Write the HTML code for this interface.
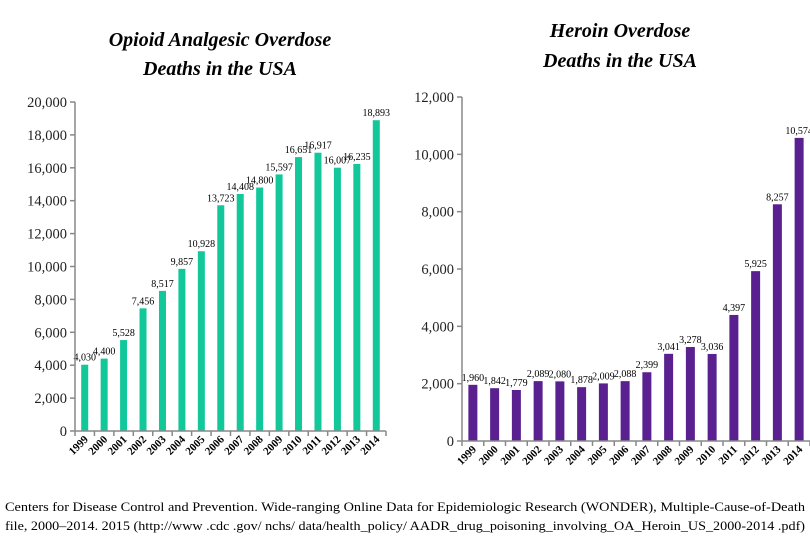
<!DOCTYPE html>
<html><head><meta charset="utf-8"><style>
html,body{margin:0;padding:0;background:#fff;}
svg{display:block;font-family:"Liberation Serif",serif;}
</style></head><body>
<svg id="c" width="810" height="540" viewBox="0 0 810 540">
<text x="220" y="46" text-anchor="middle" font-size="20" font-style="italic" font-weight="bold">Opioid Analgesic Overdose</text>
<text x="220" y="75" text-anchor="middle" font-size="20" font-style="italic" font-weight="bold">Deaths in the USA</text>
<text x="620" y="37" text-anchor="middle" font-size="20" font-style="italic" font-weight="bold">Heroin Overdose</text>
<text x="620" y="67" text-anchor="middle" font-size="20" font-style="italic" font-weight="bold">Deaths in the USA</text>
<g id="left"></g>
<g id="right"></g>
<text x="5" y="511" font-size="13" textLength="800" lengthAdjust="spacingAndGlyphs">Centers for Disease Control and Prevention.  Wide-ranging Online Data for Epidemiologic Research (WONDER),  Multiple-Cause-of-Death</text>
<text x="5" y="530" font-size="13" textLength="800" lengthAdjust="spacingAndGlyphs">file, 2000–2014. 2015 (http://www .cdc .gov/ nchs/ data/health_policy/ AADR_drug_poisoning_involving_OA_Heroin_US_2000-2014 .pdf)</text>
</svg>
<script>
const years = ["1999","2000","2001","2002","2003","2004","2005","2006","2007","2008","2009","2010","2011","2012","2013","2014"];
const opioidValues = [4030,4400,5528,7456,8517,9857,10928,13723,14408,14800,15597,16651,16917,16007,16235,18893];
const heroinValues = [1960,1842,1779,2089,2080,1878,2009,2088,2399,3041,3278,3036,4397,5925,8257,10574];
const opioidTicks = [0,2000,4000,6000,8000,10000,12000,14000,16000,18000,20000];
const heroinTicks = [0,2000,4000,6000,8000,10000,12000];
const NS="http://www.w3.org/2000/svg";
function mk(parent,tag,attrs,text){const e=document.createElementNS(NS,tag);for(const k in attrs)e.setAttribute(k,attrs[k]);if(text!==undefined)e.textContent=text;parent.appendChild(e);return e;}
function fmt(v){return v.toLocaleString("en-US");}
function draw(g,cfg){
  const y=v=>cfg.y0-(v/cfg.max)*(cfg.y0-cfg.yTop);
  const step=(cfg.x1-cfg.x0)/years.length;
  const x=i=>cfg.x0+step*(i+0.5);
  cfg.ticks.forEach(t=>{
    const l=mk(g,"line",{x1:cfg.x0-5,x2:cfg.x0,y1:y(t),y2:y(t),stroke:"#888","stroke-width":1.5});
    
    
    const tx=mk(g,"text",{x:cfg.x0-8,y:y(t)+5,"text-anchor":"end","font-size":14.5,fill:"#222"},fmt(t));
    
    
  });
  cfg.values.forEach((v,i)=>{
    const r=mk(g,"rect",{x:x(i)-cfg.bw/2,y:y(v),width:cfg.bw,height:cfg.y0-y(v),fill:cfg.color});
    
    
    const t=mk(g,"text",{x:x(i),y:y(v)-4,"text-anchor":"middle","font-size":10},fmt(v));
    
    
    const yl=mk(g,"text",{x:0,y:0,"text-anchor":"end","font-size":11,"font-weight":"bold",transform:`translate(${x(i)+4},${cfg.y0+9}) rotate(-45)`},years[i]);
    
    
  });
  for(let i=0;i<=years.length;i++){
    const xt=mk(g,"line",{x1:cfg.x0+step*i,x2:cfg.x0+step*i,y1:cfg.y0,y2:cfg.y0+5,stroke:"#888","stroke-width":1.5});
    
    
  }
  const ya=mk(g,"line",{x1:cfg.x0,x2:cfg.x0,y1:cfg.yTop,y2:cfg.y0,stroke:"#888","stroke-width":1.5});
  
  
  const xa=mk(g,"line",{x1:cfg.x0,x2:cfg.x1,y1:cfg.y0,y2:cfg.y0,stroke:"#888","stroke-width":1.5});
  
  
}
draw(document.getElementById("left"),{x0:75,x1:386,y0:431,yTop:102,max:20000,ticks:opioidTicks,values:opioidValues,bw:7,color:"#12c79a"});
draw(document.getElementById("right"),{x0:462,x1:810,y0:441,yTop:97,max:12000,ticks:heroinTicks,values:heroinValues,bw:9,color:"#5a2090"});
</script>
</body></html>
